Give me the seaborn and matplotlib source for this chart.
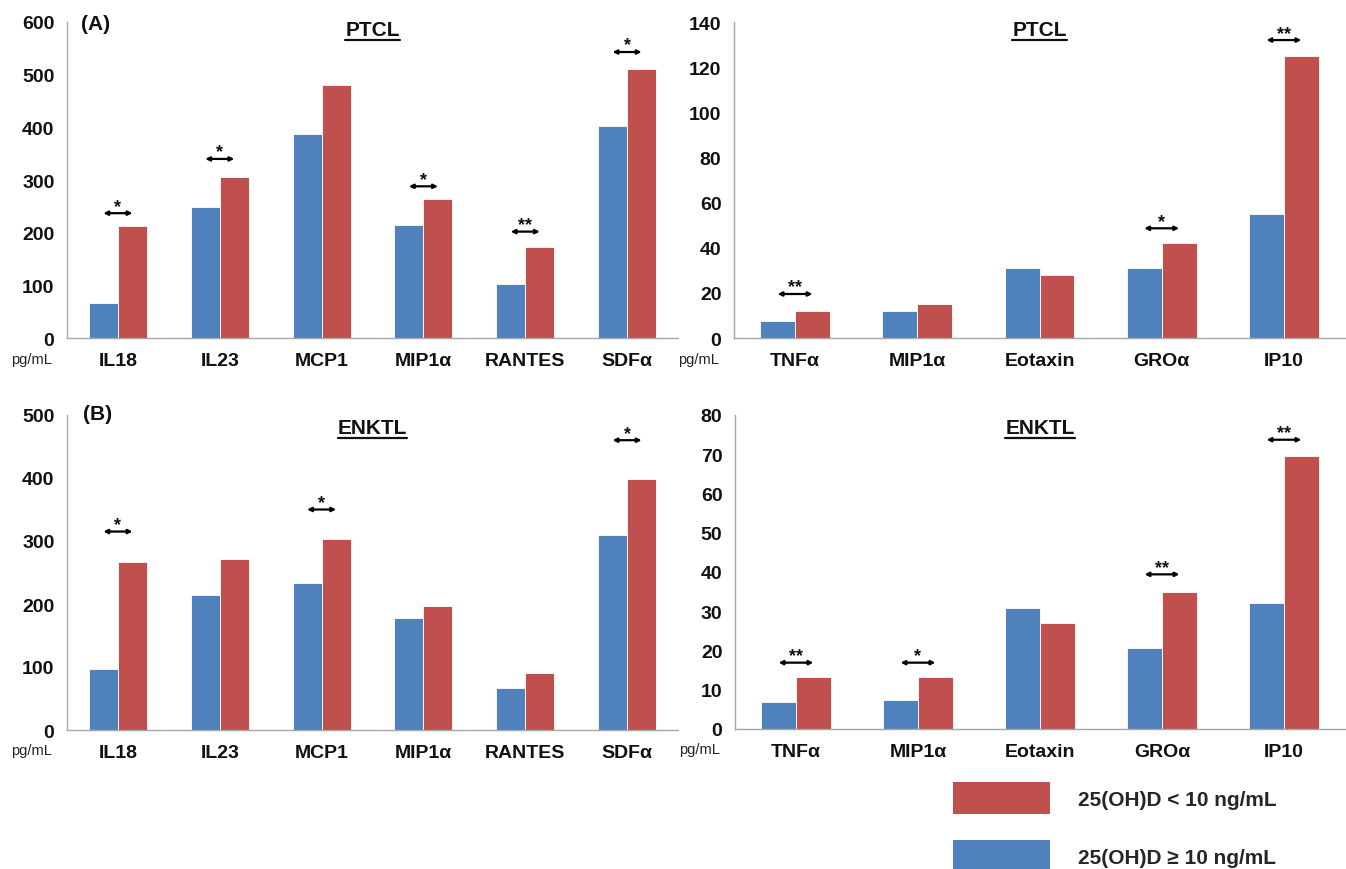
import numpy as np
import pandas as pd
import matplotlib
matplotlib.use("Agg")
import matplotlib.pyplot as plt
import seaborn as sns
from matplotlib.patches import Patch
from matplotlib.lines import Line2D

# ---------------- data ----------------
groups = ["25(OH)D \u2265 10 ng/mL", "25(OH)D < 10 ng/mL"]
colors = ["#4F81BD", "#C0504D"]

cats_left = ["IL18", "IL23", "MCP1", "MIP1\u03b1", "RANTES", "SDF\u03b1"]
cats_right = ["TNF\u03b1", "MIP1\u03b1", "Eotaxin", "GRO\u03b1", "IP10"]

ptcl_left_high = [66, 248, 388, 215, 103, 402]
ptcl_left_low = [213, 306, 481, 263, 172, 511]
ptcl_right_high = [7.5, 11.8, 31, 31, 54.8]
ptcl_right_low = [11.8, 15.1, 28.1, 42, 125]
enktl_left_high = [97, 214, 233, 178, 67, 309]
enktl_left_low = [267, 272, 303, 197, 90, 399]
enktl_right_high = [6.9, 7.5, 30.9, 20.6, 32]
enktl_right_low = [13.3, 13.3, 26.9, 35, 69.6]

ptcl_left_sig = {"IL18": (237, "*"), "IL23": (340, "*"), "MIP1\u03b1": (288, "*"),
                 "RANTES": (202, "**"), "SDF\u03b1": (543, "*")}
ptcl_right_sig = {"TNF\u03b1": (19.5, "**"), "GRO\u03b1": (48.6, "*"), "IP10": (132, "**")}
enktl_left_sig = {"IL18": (315, "*"), "MCP1": (350, "*"), "SDF\u03b1": (460, "*")}
enktl_right_sig = {"TNF\u03b1": (16.9, "**"), "MIP1\u03b1": (16.9, "*"),
                   "GRO\u03b1": (39.4, "**"), "IP10": (73.7, "**")}

ptcl_left_ticks = [0, 100, 200, 300, 400, 500, 600]
ptcl_right_ticks = [0, 20, 40, 60, 80, 100, 120, 140]
enktl_left_ticks = [0, 100, 200, 300, 400, 500]
enktl_right_ticks = [0, 10, 20, 30, 40, 50, 60, 70, 80]

# ---------------- style ----------------
sns.set_style("white")
narrow = ["Liberation Sans Narrow", "Liberation Sans", "DejaVu Sans"]
plt.rcParams["font.family"] = narrow

W, H = 1346, 870
fig = plt.figure(figsize=(W / 100, H / 100), dpi=100)

def rect(x0, y_top, x1, y_bot):
    return [x0 / W, 1 - y_bot / H, (x1 - x0) / W, (y_bot - y_top) / H]

ax_tl = fig.add_axes(rect(67, 23, 678, 339))
ax_tr = fig.add_axes(rect(734, 23, 1345, 339))
ax_bl = fig.add_axes(rect(67, 416, 678, 731))
ax_br = fig.add_axes(rect(735, 416, 1345, 730))

spine_col = "#A6A6A6"
titles = []

def panel(ax, cats, high, low, ticks, title, sig):
    df = pd.DataFrame({
        "cytokine": cats + cats,
        "level": list(high) + list(low),
        "group": [groups[0]] * len(cats) + [groups[1]] * len(cats),
    })
    sns.barplot(data=df, x="cytokine", y="level", hue="group", hue_order=groups,
                order=cats, palette=colors, width=0.57, saturation=1, ax=ax,
                legend=False, errorbar=None, edgecolor="white", linewidth=0.6)
    ax.set_ylim(0, ticks[-1])
    ax.set_xlim(-0.5, len(cats) - 0.5)
    ax.set_yticks(ticks)
    ax.set_xlabel("")
    ax.set_ylabel("")
    for s in ["top", "right"]:
        ax.spines[s].set_visible(False)
    for s in ["left", "bottom"]:
        ax.spines[s].set_color(spine_col)
        ax.spines[s].set_linewidth(1.0)
    ax.set_xticks(np.arange(-0.5, len(cats), 1), minor=True)
    ax.tick_params(axis="x", which="major", length=0, pad=10, labelsize=14)
    ax.tick_params(axis="x", which="minor", length=6, color=spine_col, width=1, direction="out")
    ax.tick_params(axis="y", which="major", length=4, color=spine_col, width=1,
                   direction="out", pad=5, labelsize=14)
    for lab in ax.get_xticklabels() + ax.get_yticklabels():
        lab.set_fontweight("bold")
        lab.set_color("#111111")
    # significance brackets
    centers = {}
    for p in ax.patches:
        cx = p.get_x() + p.get_width() / 2
        centers.setdefault(int(round(cx)), []).append(cx)
    for cat, (lvl, stars) in sig.items():
        i = cats.index(cat)
        x1, x2 = sorted(centers[i])[:2]
        ax.annotate("", xy=(x2, lvl), xytext=(x1, lvl),
                    arrowprops=dict(arrowstyle="<|-|>", mutation_scale=6, lw=1.6,
                                    color="black", shrinkA=0, shrinkB=0))
        ax.annotate(stars, xy=((x1 + x2) / 2, lvl), xytext=(0, 5),
                    textcoords="offset points", ha="center", va="center",
                    fontsize=13, fontweight="bold", color="#111111")
    t = ax.text(0.5, 0.975, title, transform=ax.transAxes, ha="center", va="center",
                fontsize=15, fontweight="bold", color="#111111")
    titles.append(t)
    ax.text(-0.058, -0.065, "pg/mL", transform=ax.transAxes, ha="center", va="center",
            fontsize=10.5, color="#222222")

panel(ax_tl, cats_left, ptcl_left_high, ptcl_left_low, ptcl_left_ticks, "PTCL", ptcl_left_sig)
panel(ax_tr, cats_right, ptcl_right_high, ptcl_right_low, ptcl_right_ticks, "PTCL", ptcl_right_sig)
panel(ax_bl, cats_left, enktl_left_high, enktl_left_low, enktl_left_ticks, "ENKTL", enktl_left_sig)
panel(ax_br, cats_right, enktl_right_high, enktl_right_low, enktl_right_ticks, "ENKTL", enktl_right_sig)

titles[2].set_y(0.96)
titles[3].set_y(0.96)

fig.text(96 / W, 1 - 24 / H, "(A)", ha="center", va="center", fontsize=15, fontweight="bold", color="#111111")
fig.text(98 / W, 1 - 415 / H, "(B)", ha="center", va="center", fontsize=15, fontweight="bold", color="#111111")

# legend
fs = 15
fs_px = fs * 100 / 72
handles = [Patch(facecolor=colors[1], edgecolor="none"), Patch(facecolor=colors[0], edgecolor="none")]
fig.legend(handles, [groups[1], groups[0]], loc="upper left",
           bbox_to_anchor=(953 / W, 1 - 783 / H), frameon=False, borderpad=0,
           borderaxespad=0, handlelength=97 / fs_px, handleheight=1.98,
           labelspacing=1.25, handletextpad=28 / fs_px,
           prop=dict(family=["Liberation Sans", "DejaVu Sans"], weight="bold", size=fs))

# underline titles
fig.canvas.draw()
r = fig.canvas.get_renderer()
inv = fig.transFigure.inverted()
for t in titles:
    bb = t.get_window_extent(r)
    (x0, y0), (x1, y1) = inv.transform([(bb.x0, bb.y0), (bb.x1, bb.y1)])
    fig.add_artist(Line2D([x0, x1], [y0 - 1.0 / H, y0 - 1.0 / H], transform=fig.transFigure,
                          color="#111111", lw=1.6))

fig.savefig("out.png", dpi=100)
